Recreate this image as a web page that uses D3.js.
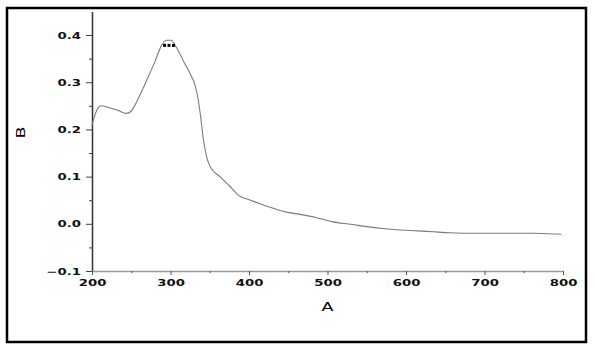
<!DOCTYPE html>
<html>
<head>
<meta charset="utf-8">
<script src="https://cdn.jsdelivr.net/npm/d3@7"></script>
<style>
  html, body { margin: 0; padding: 0; background: #fff; }
  svg { display: block; }
</style>
</head>
<body>
<svg id="chart" width="594" height="351"></svg>
<script>
// spectrum: A (x) vs B (y)
const waveA = [200, 204, 208, 212, 220, 232, 244, 250, 258, 267, 280, 289, 295, 301, 307, 318, 325, 331, 335, 338, 342, 346, 351, 363, 376, 388, 400, 410, 425, 444, 465, 486, 507, 530, 550, 570, 592, 615, 635, 656, 677, 700, 720, 742, 762, 780, 798];
const valueB = [0.209, 0.232, 0.246, 0.250, 0.247, 0.241, 0.234, 0.239, 0.262, 0.294, 0.343, 0.379, 0.389, 0.389, 0.375, 0.340, 0.318, 0.295, 0.266, 0.232, 0.178, 0.142, 0.120, 0.100, 0.079, 0.059, 0.051, 0.045, 0.036, 0.026, 0.020, 0.013, 0.004, -0.001, -0.006, -0.010, -0.013, -0.015, -0.017, -0.019, -0.020, -0.020, -0.020, -0.020, -0.020, -0.021, -0.022];
const markA = [292.4, 298.1, 303.8];
const markB = [0.378, 0.378, 0.378];
const xTicks = [200, 300, 400, 500, 600, 700, 800];
const xMinor = [250, 350, 450, 550, 650, 750];
const yTicks = [-0.1, 0.0, 0.1, 0.2, 0.3, 0.4];
const yMinor = [-0.05, 0.05, 0.15, 0.25, 0.35];

const svg = d3.select("#chart");
const stretch = 1.4;

// frame around the whole figure
svg.append("rect")
  .attr("x", 7).attr("y", 8)
  .attr("width", 579).attr("height", 334)
  .attr("fill", "none")
  .attr("stroke", "#000")
  .attr("stroke-width", 2.5);

const x = d3.scaleLinear().domain([200, 800]).range([92, 563]);
const y = d3.scaleLinear().domain([-0.1, 0.45]).range([271, 11.4]);

// y axis
const gy = svg.append("g").attr("transform", `translate(${x(200)},0)`);
gy.call(d3.axisLeft(y).tickValues(yTicks).tickSize(6).tickSizeOuter(0)
  .tickFormat(d3.format(".1f")));
gy.append("g").call(d3.axisLeft(y).tickValues(yMinor).tickSize(3).tickFormat(""))
  .select(".domain").remove();
gy.selectAll(".domain").attr("stroke", "#333").attr("stroke-width", 1.5);
gy.selectAll(".tick line").attr("stroke", "#444");

// x axis
const gx = svg.append("g").attr("transform", `translate(0,${y(-0.1)})`);
gx.call(d3.axisBottom(x).tickValues(xTicks).tickSize(4).tickSizeOuter(0)
  .tickFormat(d3.format("d")));
gx.append("g").call(d3.axisBottom(x).tickValues(xMinor).tickSize(2).tickFormat(""))
  .select(".domain").remove();
gx.selectAll(".domain").attr("stroke", "#999").attr("stroke-width", 1.5);
gx.selectAll(".tick line").attr("stroke", "#555");

svg.selectAll(".tick text")
  .attr("font-family", "DejaVu Sans")
  .attr("font-weight", "bold")
  .attr("font-size", 9.5)
  .attr("fill", "#111");
gy.selectAll(".tick text")
  .attr("x", -11 / stretch)
  .attr("transform", `scale(${stretch},1)`);
gx.selectAll(".tick text")
  .attr("y", 8)
  .attr("transform", `scale(${stretch},1)`);

// axis titles
svg.append("text")
  .attr("transform", `translate(${x(500)},311) scale(${stretch},1)`)
  .attr("text-anchor", "middle")
  .attr("font-family", "DejaVu Sans")
  .attr("font-size", 12.5)
  .text("A");
svg.append("text")
  .attr("transform", `translate(25,${y(0.2) + 3}) rotate(-90) scale(${stretch},1)`)
  .attr("text-anchor", "middle")
  .attr("font-family", "DejaVu Sans")
  .attr("font-size", 12.5)
  .text("B");

// curve
const pts = waveA.map((a, i) => [a, valueB[i]]);
svg.append("path")
  .datum(pts)
  .attr("fill", "none")
  .attr("stroke", "#7a7a7a")
  .attr("stroke-width", 1.1)
  .attr("d", d3.line().x(d => x(d[0])).y(d => y(d[1])).curve(d3.curveMonotoneX));

// small square markers under the peak
svg.selectAll("rect.mark")
  .data(markA.map((a, i) => [a, markB[i]]))
  .enter().append("rect")
  .attr("class", "mark")
  .attr("x", d => x(d[0]) - 1.5)
  .attr("y", d => y(d[1]) - 1.5)
  .attr("width", 3).attr("height", 3)
  .attr("fill", "#000");
</script>
</body>
</html>
